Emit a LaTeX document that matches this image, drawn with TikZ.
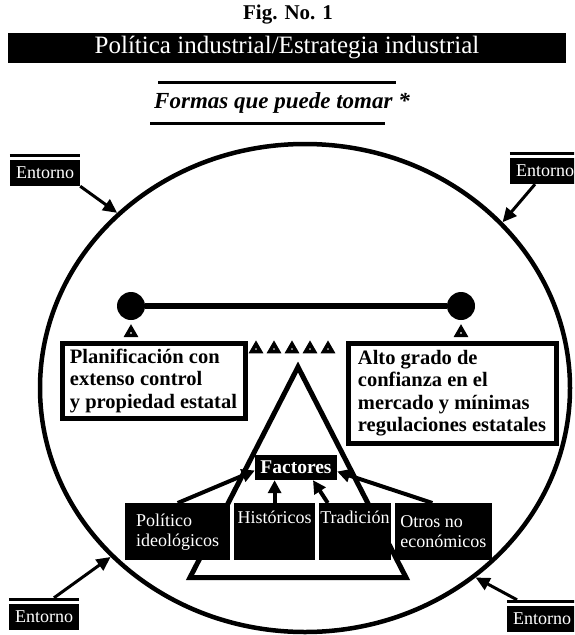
\documentclass[tikz,border=0pt]{standalone}
\usepackage{fontspec}
\setmainfont{Liberation Serif}
\usetikzlibrary{arrows.meta,positioning,shapes.geometric}

\begin{document}
\begin{tikzpicture}[
  x=1pt, y=-1pt,
  envbox/.style={fill=black, text=white, font=\fontsize{18}{20}\selectfont, inner xsep=6pt, inner ysep=0pt, minimum height=26pt},
  envline/.style={line width=3pt},
  earrow/.style={line width=3pt, -{Triangle[length=14pt, width=13pt]}},
  farrow/.style={line width=4pt, -{Triangle[length=13pt, width=13pt]}},
  optbox/.style={draw, line width=5pt, fill=white, align=left, inner xsep=6pt, font=\bfseries\fontsize{20.5}{22.5}\selectfont},
  botbox/.style={fill=black, text=white, align=left, inner xsep=1pt, inner ysep=8pt, minimum height=57pt, font=\fontsize{18}{20}\selectfont},
  onetop/.style={text height=12pt, text depth=29pt},
  ball/.style={circle, fill=black, minimum size=28pt, inner sep=0pt},
  pivot/.style={regular polygon, regular polygon sides=3, draw, fill=white, line width=3.6pt, minimum size=10pt, inner sep=0pt}
]
\useasboundingbox (0,0) rectangle (574,635);
\clip (0,0) rectangle (574,635);

% title block
\node[font=\bfseries\fontsize{21}{24}\selectfont] (fig) at (288,15) {Fig. No. 1};
\node[fill=black, text=white, minimum width=558pt, minimum height=30pt, inner sep=0pt, font=\fontsize{25}{28}\selectfont] (band) at (287,48) {Política industrial/Estrategia industrial};
\node[font=\bfseries\itshape\fontsize{23}{26}\selectfont] (formas) at (282,103) {Formas que puede tomar *};
\draw[line width=3pt] (158,82) -- (396,82);
\draw[line width=3pt] (150,123) -- (385,123);

% environment
\node[draw, ellipse, line width=4.5pt, minimum width=530pt, minimum height=488pt, inner sep=0pt] (ell) at (305,388) {};
\node[envbox] (envtl) at (45,173) {Entorno};
\node[envbox] (envtr) at (545,171) {Entorno};
\node[envbox] (envbl) at (44,617) {Entorno};
\node[envbox] (envbr) at (542,619) {Entorno};
\foreach \e in {envtl,envtr,envbl,envbr}
  \draw[envline] ([yshift=4.5pt]\e.north west) -- ([yshift=4.5pt]\e.north east);
\draw[earrow] (envtl.south east) -- (ell.137);
\draw[earrow] ([xshift=-10pt]envtr.south) -- (ell.40);
\draw[earrow] ([xshift=10pt,yshift=6pt]envbl.north) -- (ell.221);
\draw[earrow] ([xshift=-25pt,yshift=6pt]envbr.north) -- (ell.312);

% balance
\node[ball] (lball) at (131,306) {};
\node[ball] (rball) at (461,306) {};
\draw[line width=6pt] (lball) -- (rball);
\node[pivot, below=4pt of lball] (lpiv) {};
\node[pivot, below=4pt of rball] (rpiv) {};
\foreach \i/\x in {1/256,2/274,3/292,4/310,5/328}
  \node[pivot] (mk\i) at (\x,349) {};

\node[optbox, anchor=north west, minimum width=183pt, minimum height=75pt] (plan) at (59.5,340.5) {Planificación con\\extenso control\\y propiedad estatal};
\node[optbox, anchor=north west, minimum width=208pt, minimum height=100pt] (alto) at (345.5,340.5) {Alto grado de\\confianza en el\\mercado y mínimas\\regulaciones estatales};

% factors
\draw[line width=5pt, line join=miter] (298,367) -- (190,577.5) -- (406,577.5) -- cycle;
\node[fill=black, text=white, minimum width=82pt, minimum height=25pt, inner sep=0pt, font=\bfseries\fontsize{19.5}{22}\selectfont] (fac) at (296,467.5) {Factores};
\node[botbox, anchor=north west, minimum width=105pt] (pol) at (125,503) {Político\\ideológicos};
\node[botbox, onetop, minimum width=81pt, right=3.5pt of pol] (his) {Históricos};
\node[botbox, onetop, minimum width=72pt, right=3.5pt of his] (tra) {Tradición};
\node[botbox, minimum width=97pt, right=3.5pt of tra] (oth) {Otros no\\económicos};
\draw[farrow] (pol.north) -- ([yshift=-3pt]fac.west);
\draw[farrow] (his.north) -- (his.north |- fac.south);
\draw[farrow] ([xshift=9pt]tra.north west) -- ([xshift=17pt]fac.south);
\draw[farrow] ([xshift=-11pt]oth.north) -- ([yshift=-4pt]fac.east);
\end{tikzpicture}
\end{document}
